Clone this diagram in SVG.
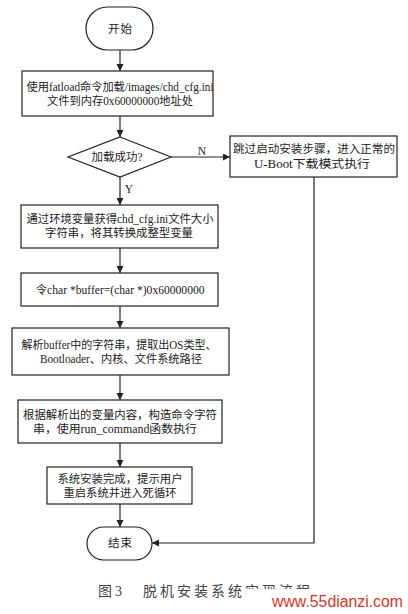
<svg xmlns="http://www.w3.org/2000/svg" width="408" height="614" viewBox="0 0 408 614">
<defs>
<style>
.box{fill:#fff;stroke:#222;stroke-width:1.2}
.ln{fill:none;stroke:#222;stroke-width:1.2}
.t{font-family:"Liberation Serif","Noto Sans CJK SC",serif;font-size:11.5px;fill:#222;text-anchor:middle;dominant-baseline:central}
.cap{font-family:"Liberation Serif","Noto Sans CJK SC",serif;font-size:14px;fill:#444;letter-spacing:3px}
</style>
<marker id="ah" markerWidth="8" markerHeight="8" refX="7" refY="3.5" orient="auto" markerUnits="userSpaceOnUse">
<path d="M0,0 L7,3.5 L0,7 Z" fill="#222"/>
</marker>
</defs>
<rect width="408" height="614" fill="#fff"/>
<g id="connectors">
<line class="ln" x1="120" y1="50" x2="120" y2="71" marker-end="url(#ah)"/>
<line class="ln" x1="120" y1="116" x2="120" y2="137" marker-end="url(#ah)"/>
<line class="ln" x1="171" y1="157" x2="230" y2="157" marker-end="url(#ah)"/>
<text class="t" x="202" y="151">N</text>
<line class="ln" x1="120" y1="177" x2="120" y2="205" marker-end="url(#ah)"/>
<text class="t" x="129" y="189">Y</text>
<line class="ln" x1="120" y1="248" x2="120" y2="273" marker-end="url(#ah)"/>
<line class="ln" x1="120" y1="306" x2="120" y2="328" marker-end="url(#ah)"/>
<line class="ln" x1="120" y1="375" x2="120" y2="400" marker-end="url(#ah)"/>
<line class="ln" x1="120" y1="443" x2="120" y2="467" marker-end="url(#ah)"/>
<line class="ln" x1="120" y1="504" x2="120" y2="527" marker-end="url(#ah)"/>
<polyline class="ln" points="314,177 314,543 152,543" marker-end="url(#ah)"/>
</g>
<g id="start">
<rect class="box" x="86" y="7" width="67" height="43" rx="21.5"/>
<text class="t" x="120" y="29" textLength="24">开始</text>
</g>
<g id="load">
<rect class="box" x="22" y="71" width="191" height="45"/>
<text class="t" x="120" y="87" textLength="187" lengthAdjust="spacingAndGlyphs">使用fatload命令加载/images/chd_cfg.ini</text>
<text class="t" x="120" y="101" textLength="146" lengthAdjust="spacingAndGlyphs">文件到内存0x60000000地址处</text>
</g>
<g id="decision">
<polygon class="box" points="120,137 171,157 120,177 68,157"/>
<text class="t" x="117" y="157" textLength="51" lengthAdjust="spacingAndGlyphs">加载成功?</text>
</g>
<g id="skip">
<rect class="box" x="230" y="136" width="167" height="41"/>
<text class="t" x="314" y="149" textLength="162" lengthAdjust="spacingAndGlyphs">跳过启动安装步骤，进入正常的</text>
<text class="t" x="312" y="164" textLength="116" lengthAdjust="spacingAndGlyphs">U-Boot下载模式执行</text>
</g>
<g id="size">
<rect class="box" x="21" y="205" width="197" height="43"/>
<text class="t" x="120" y="219" textLength="187" lengthAdjust="spacingAndGlyphs">通过环境变量获得chd_cfg.ini文件大小</text>
<text class="t" x="119" y="233" textLength="148" lengthAdjust="spacingAndGlyphs">字符串，将其转换成整型变量</text>
</g>
<g id="buffer">
<rect class="box" x="21" y="273" width="197" height="33"/>
<text class="t" x="120" y="290" textLength="169" lengthAdjust="spacingAndGlyphs">令char  *buffer=(char  *)0x60000000</text>
</g>
<g id="parse">
<rect class="box" x="12" y="328" width="217" height="47"/>
<text class="t" x="119" y="345" textLength="195" lengthAdjust="spacingAndGlyphs">解析buffer中的字符串，提取出OS类型、</text>
<text class="t" x="121" y="359" textLength="162" lengthAdjust="spacingAndGlyphs">Bootloader、内核、文件系统路径</text>
</g>
<g id="run">
<rect class="box" x="18" y="400" width="204" height="43"/>
<text class="t" x="120" y="415" textLength="194" lengthAdjust="spacingAndGlyphs">根据解析出的变量内容，构造命令字符</text>
<text class="t" x="115" y="429" textLength="164" lengthAdjust="spacingAndGlyphs">串，使用run_command函数执行</text>
</g>
<g id="done">
<rect class="box" x="47" y="467" width="145" height="37"/>
<text class="t" x="120" y="479" textLength="125" lengthAdjust="spacingAndGlyphs">系统安装完成，提示用户</text>
<text class="t" x="120" y="493" textLength="113" lengthAdjust="spacingAndGlyphs">重启系统并进入死循环</text>
</g>
<g id="end">
<rect class="box" x="87" y="527" width="65" height="33" rx="16.5"/>
<text class="t" x="120" y="543" textLength="24">结束</text>
</g>
<g id="caption">
<text class="cap" x="98" y="596">图3</text>
<text class="cap" x="143" y="596">脱机安装系统实现流程</text>
<rect x="246" y="589" width="162" height="25" fill="#fff"/>
<text x="272" y="607" font-family="Liberation Sans, Arial, sans-serif" font-size="16" fill="#e0321e" textLength="131" lengthAdjust="spacingAndGlyphs">www.55dianzi.com</text>
</g>
</svg>
